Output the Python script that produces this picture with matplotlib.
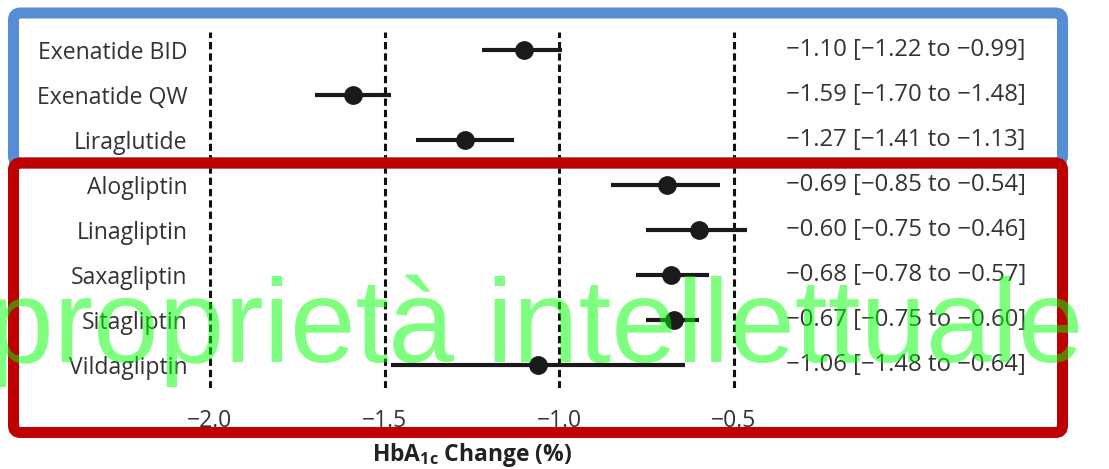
import matplotlib
matplotlib.use("Agg")
import matplotlib.pyplot as plt
from matplotlib.patches import FancyBboxPatch
import matplotlib.transforms as mtransforms

drugs = ["Exenatide BID", "Exenatide QW", "Liraglutide", "Alogliptin",
         "Linagliptin", "Saxagliptin", "Sitagliptin", "Vildagliptin"]
mean = [-1.10, -1.59, -1.27, -0.69, -0.60, -0.68, -0.67, -1.06]
lower = [-1.22, -1.70, -1.41, -0.85, -0.75, -0.78, -0.75, -1.48]
upper = [-0.99, -1.48, -1.13, -0.54, -0.46, -0.57, -0.60, -0.64]
ref_lines = [-2.0, -1.5, -1.0, -0.5]
xticks = [-2.0, -1.5, -1.0, -0.5]
xtick_labels = ["\u22122.0", "\u22121.5", "\u22121.0", "\u22120.5"]

W, H = 1109, 469
DPI = 100
fig = plt.figure(figsize=(W / DPI, H / DPI), dpi=DPI)
fig.patch.set_facecolor("white")
plt.rcParams["mathtext.default"] = "regular"

FONT = ["Open Sans", "DejaVu Sans"]
TXT = "#333333"

# main axes in pixel geometry
L, R, T, B = 200, 760, 32, 388
ax = fig.add_axes([L / W, 1 - B / H, (R - L) / W, (B - T) / H])
ppu = 349.0
x0px = 210.0
ax.set_xlim(-2 + (L - x0px) / ppu, -2 + (R - x0px) / ppu)
row0, dy = 50.0, 45.0
ax.set_ylim((B - row0) / dy, (T - row0) / dy)
ax.patch.set_visible(False)
for s in ax.spines.values():
    s.set_visible(False)

for v in ref_lines:
    ax.axvline(v, color="#111111", lw=2.2, ls=(0, (2.4, 1.3)), zorder=1)

ys = list(range(len(drugs)))
for i in ys:
    ax.plot([lower[i], upper[i]], [i, i], color="#1a1a1a", lw=3.0,
            solid_capstyle="butt", zorder=2)
ax.plot(mean, ys, "o", color="#1a1a1a", ms=12.5, zorder=3)

ax.set_yticks(ys)
ax.set_yticklabels(drugs, fontsize=16.6, color=TXT, family=FONT)
ax.set_xticks(xticks)
ax.set_xticklabels(xtick_labels, fontsize=16.5, color=TXT, family=FONT)
ax.tick_params(axis="both", length=0)
ax.tick_params(axis="y", pad=9)
ax.tick_params(axis="x", pad=15)
ax.set_xlabel("HbA$_{1c}$ Change (%)", fontsize=16.5, fontweight="bold",
              color="#222222", family=FONT)
ax.xaxis.set_label_coords((472 - L) / (R - L), -(455 - B) / (B - T))
ax.xaxis.label.set_va("center")

tr = mtransforms.blended_transform_factory(fig.transFigure, ax.transData)
for i in ys:
    txt = "%s [%s to %s]" % (("%.2f" % mean[i]).replace("-", "\u2212"),
                             ("%.2f" % lower[i]).replace("-", "\u2212"),
                             ("%.2f" % upper[i]).replace("-", "\u2212"))
    ax.text(786 / W, i, txt, transform=tr, fontsize=17.2, color=TXT,
            family=FONT, va="center", ha="left")

# overlay for boxes
ov = fig.add_axes([0, 0, 1, 1])
ov.set_xlim(0, W)
ov.set_ylim(H, 0)
ov.axis("off")
ov.patch.set_visible(False)
lw_box = 11 * 72 / DPI
blue = FancyBboxPatch((13.5, 13), 1062.5 - 13.5, 163 - 13,
                      boxstyle="round,pad=0,rounding_size=7",
                      fc="none", ec="#558ED5", lw=lw_box)
red = FancyBboxPatch((13.5, 163), 1062.5 - 13.5, 432.5 - 163,
                     boxstyle="round,pad=0,rounding_size=7",
                     fc="none", ec="#C00000", lw=lw_box)
ov.add_patch(blue)
ov.add_patch(red)

fig.text(536 / W, 1 - 362 / H, "proprietà intellettuale", fontsize=85,
         family=["Liberation Sans", "DejaVu Sans"], color=(0, 1, 0, 0.5),
         ha="center", va="baseline", zorder=10)

fig.savefig("out.png", dpi=DPI)
